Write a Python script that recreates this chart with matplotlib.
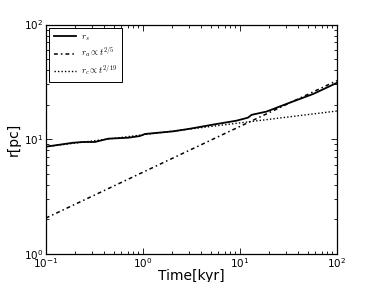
import matplotlib
matplotlib.use("Agg")
from matplotlib import pyplot as plt

# r_s
time_s = [0.1, 0.19, 0.24, 0.32, 0.44, 0.71, 0.93, 1.05, 2.05, 3.0, 5.3, 9.25, 12.1, 13.2, 18.8, 30.2, 57.0, 100.0]
r_s = [8.6, 9.3, 9.45, 9.45, 10.1, 10.3, 10.65, 11.1, 11.7, 12.3, 13.4, 14.5, 15.4, 16.3, 17.4, 20.3, 24.8, 31.0]

# power-law guides, end points
time_a = [0.1, 100.0]
r_a = [2.05, 32.4]
time_c = [0.1, 100.0]
r_c = [8.6, 17.6]

plt.rcParams["mathtext.fontset"] = "cm"
plt.rcParams["font.family"] = "DejaVu Sans"

fig = plt.figure(figsize=(3.76, 2.82), dpi=100)
ax = fig.add_axes([0.122, 0.1, 0.774, 0.813])

ax.plot(time_s, r_s, "k-", lw=1.3, label=r"$r_s$")
ax.plot(time_a, r_a, "k", lw=1.1, dashes=(2.5, 2, 1, 2), label=r"$r_a \propto t^{2/5}$")
ax.plot(time_c, r_c, "k", lw=1.0, dashes=(1, 1.5), label=r"$r_c \propto t^{2/19}$")

ax.set_xscale("log")
ax.set_yscale("log")
ax.set_xlim(0.1, 100)
ax.set_ylim(1, 100)
ax.set_xlabel("Time[kyr]", fontsize=10, labelpad=-1)
ax.set_ylabel("r[pc]", fontsize=10, labelpad=2)

ax.tick_params(which="both", direction="in", top=True, right=True, labelsize=7.5, width=0.6, pad=2)
ax.tick_params(which="major", length=4)
ax.tick_params(which="minor", length=2)
for sp in ax.spines.values():
    sp.set_linewidth(0.9)

leg = ax.legend(loc="upper left", fontsize=6.5, fancybox=False, framealpha=1,
                edgecolor="black", handlelength=2.4, borderpad=0.5, labelspacing=0.35,
                handletextpad=0.6, borderaxespad=0.4)
leg.get_frame().set_linewidth(0.7)

fig.savefig("out.png", dpi=100)
